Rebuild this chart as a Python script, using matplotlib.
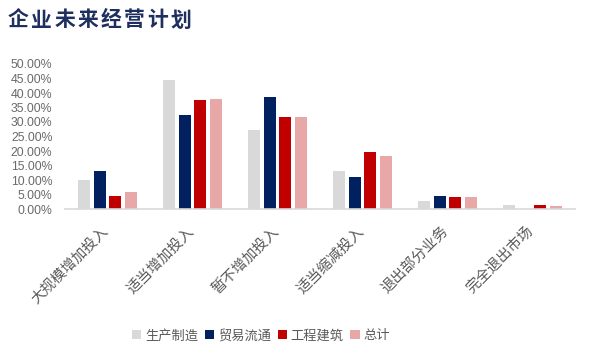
import matplotlib
matplotlib.use("Agg")
import matplotlib.pyplot as plt
import matplotlib.transforms as mtransforms
import numpy as np

plt.rcParams['font.family'] = ['Liberation Sans', 'Noto Sans CJK SC', 'DejaVu Sans']

# 数据 (百分比)
categories = ['大规模增加投入', '适当增加投入', '暂不增加投入', '适当缩减投入', '退出部分业务', '完全退出市场']
series_names = ['生产制造', '贸易流通', '工程建筑', '总计']
shengchan = [10.0, 44.5, 27.4, 13.0, 2.7, 1.4]
maoyi = [13.0, 32.5, 38.7, 11.0, 4.4, 0.0]
gongcheng = [4.5, 37.7, 31.8, 19.5, 4.0, 1.4]
zongji = [5.8, 38.1, 31.8, 18.2, 4.0, 1.0]
colors = ['#D9D9D9', '#002060', '#C00000', '#E9A8A8']
title = '企业未来经营计划'

fig = plt.figure(figsize=(5.93, 3.6), dpi=100)
ax = fig.add_axes([65 / 593, 1 - 209 / 360, 510 / 593, 145 / 360])

x = np.arange(len(categories))
step = 0.185
width = 0.142
for i, (vals, c, name) in enumerate(zip([shengchan, maoyi, gongcheng, zongji], colors, series_names)):
    ax.bar(x + (i - 1.5) * step, np.array(vals) / 100, width, color=c, label=name)

ax.set_xlim(-0.5, len(categories) - 0.5)
ax.set_ylim(0, 0.5)
ax.set_yticks(np.arange(0, 0.501, 0.05))
ax.set_yticklabels(['%.2f%%' % (v * 100) for v in np.arange(0, 0.501, 0.05)])
ax.set_xticks(x)
ax.set_xticklabels(categories, rotation=45, ha='right', rotation_mode='anchor')

for s in ['top', 'right', 'left']:
    ax.spines[s].set_visible(False)
ax.spines['bottom'].set_color('#D9D9D9')
ax.spines['bottom'].set_linewidth(1.2)
ax.tick_params(axis='y', length=0, labelsize=8.8, labelcolor='#6A6A6A', pad=9)
ax.tick_params(axis='x', length=0, labelsize=10.5, labelcolor='#595959', pad=10)

# 把横轴标签往左挪一点
shift = mtransforms.ScaledTranslation(-6 / 100, -1 / 100, fig.dpi_scale_trans)
for lab in ax.get_xticklabels():
    lab.set_transform(lab.get_transform() + shift)

# 标题字距较宽, 逐字放置
for k, ch in enumerate(title):
    fig.text((8 + 23.2 * k) / 593, 1 - 20 / 360, ch, fontsize=15, fontweight='bold',
             color='#1F2F5F', va='center', ha='left', family=['Noto Sans CJK SC'])

fig.legend(loc='center', bbox_to_anchor=(261 / 593, 1 - 336 / 360), ncol=4, frameon=False,
           fontsize=9.5, handlelength=0.7, handleheight=0.7, handletextpad=0.3,
           columnspacing=0.5, labelcolor='#595959')

fig.savefig('out.png', dpi=100)
